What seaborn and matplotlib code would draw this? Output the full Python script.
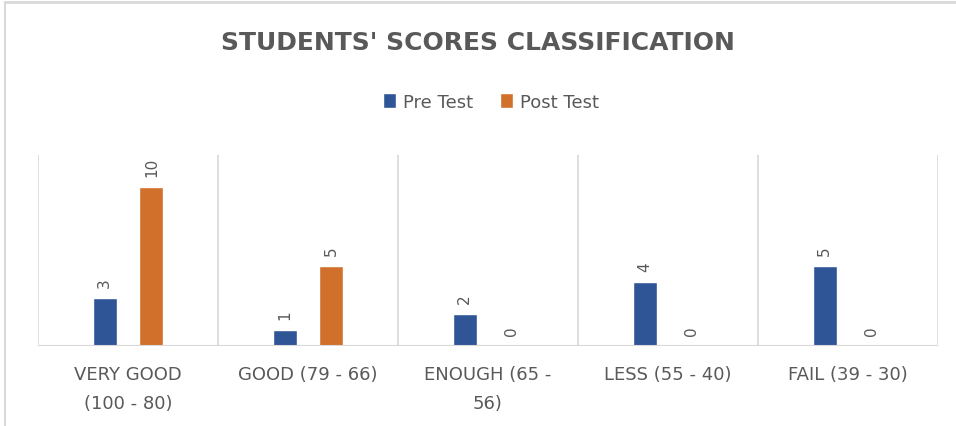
import pandas as pd
import matplotlib.pyplot as plt
import seaborn as sns
from matplotlib.lines import Line2D
from matplotlib.patches import Patch

# chart data
categories = ["VERY GOOD\n(100 - 80)", "GOOD (79 - 66)", "ENOUGH (65 -\n56)",
              "LESS (55 - 40)", "FAIL (39 - 30)"]
pre_test = [3, 1, 2, 4, 5]
post_test = [10, 5, 0, 0, 0]
series = ["Pre Test", "Post Test"]
colors = ["#2F5597", "#D0702B"]
text_gray = "#595959"
grid_gray = "#D9D9D9"


def build_frame():
    rows = []
    for cat, a, b in zip(categories, pre_test, post_test):
        rows.append({"Category": cat, "Series": series[0], "Value": a})
        rows.append({"Category": cat, "Series": series[1], "Value": b})
    return pd.DataFrame(rows)


def main():
    sns.set_theme(style="white")
    plt.rcParams["font.family"] = ["DejaVu Sans"]
    df = build_frame()

    fig = plt.figure(figsize=(9.56, 4.27), dpi=100)
    ax = fig.add_axes([38 / 956, 1 - 347 / 427, 900 / 956, 191 / 427])

    sns.barplot(data=df, x="Category", y="Value", hue="Series",
                palette=colors, width=0.52, gap=0.49, ax=ax,
                legend=False, saturation=1)

    ax.set_ylim(0, 12)
    ax.set_xlim(-0.5, len(categories) - 0.5)

    # vertical separators between categories
    for i in range(len(categories) + 1):
        ax.axvline(i - 0.5, color=grid_gray, lw=1.2, zorder=0)
    ax.axhline(0, color=grid_gray, lw=1.5, zorder=3)

    for s in ax.spines.values():
        s.set_visible(False)
    ax.set_yticks([])
    ax.set_xlabel("")
    ax.set_ylabel("")
    ax.tick_params(axis="x", length=0, pad=14)
    for lbl in ax.get_xticklabels():
        lbl.set_fontsize(13)
        lbl.set_color(text_gray)
        lbl.set_linespacing(1.75)

    # data labels, rotated like the original
    for container in ax.containers:
        for bar in container:
            h = bar.get_height()
            ax.annotate(f"{h:.0f}", (bar.get_x() + bar.get_width() / 2, h),
                        xytext=(0, 8), textcoords="offset points",
                        ha="center", va="bottom", rotation=90,
                        fontsize=11, color=text_gray)

    fig.text(0.5, 1 - 43 / 427, "STUDENTS' SCORES CLASSIFICATION",
             ha="center", va="center", fontsize=18, fontweight="bold",
             color=text_gray)

    handles = [Patch(facecolor=c, label=s) for c, s in zip(colors, series)]
    fig.legend(handles=handles, loc="center", ncol=2,
               bbox_to_anchor=(0.514, 1 - 103 / 427), frameon=False,
               fontsize=13, handlelength=0.7, handleheight=0.9,
               handletextpad=0.4, columnspacing=1.5, labelcolor=text_gray)

    # partial outer border of the chart box
    fig.add_artist(Line2D([5 / 956, 1], [1 - 3 / 427, 1 - 3 / 427],
                          color=grid_gray, lw=2, transform=fig.transFigure))
    fig.add_artist(Line2D([5 / 956, 5 / 956], [0, 1 - 3 / 427],
                          color=grid_gray, lw=1.5, transform=fig.transFigure))

    fig.savefig("out.png", dpi=100)


if __name__ == "__main__":
    main()
